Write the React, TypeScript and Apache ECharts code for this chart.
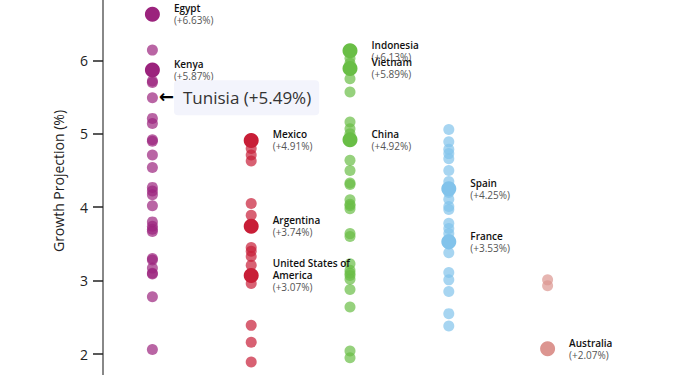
import React, { useEffect, useRef } from "react";
import * as echarts from "echarts";

const continents = ["Africa", "Americas", "Asia", "Europe", "Oceania"];
const continentColors = ["#9b237d", "#c81e37", "#69be46", "#82c3eb", "#dc9590"];

// background (unlabelled) country projections per continent
const africaValues = [6.14, 5.72, 5.70, 5.21, 5.14, 4.92, 4.90, 4.71, 4.54, 4.27, 4.22, 4.17, 4.02, 3.80, 3.74, 3.70, 3.67, 3.30, 3.28, 3.17, 3.10, 3.09, 2.78, 2.06];
const americasValues = [4.80, 4.71, 4.63, 4.05, 3.89, 3.45, 3.40, 3.33, 3.21, 2.96, 2.39, 2.16, 1.89];
const asiaValues = [6.03, 5.96, 5.75, 5.57, 5.16, 5.07, 5.00, 4.64, 4.50, 4.33, 4.31, 4.10, 4.04, 4.02, 3.98, 3.64, 3.60, 3.23, 3.14, 3.10, 3.07, 3.02, 2.88, 2.64, 2.04, 1.95];
const europeValues = [5.06, 4.89, 4.79, 4.73, 4.66, 4.50, 4.35, 4.27, 4.20, 4.11, 4.01, 3.97, 3.78, 3.71, 3.64, 3.56, 3.50, 3.38, 3.11, 3.01, 2.85, 2.55, 2.38];
const oceaniaValues = [3.01, 2.93];
const backgroundValues = [africaValues, americasValues, asiaValues, europeValues, oceaniaValues];

// labelled countries
const highlightNames = ["Egypt", "Kenya", "Mexico", "Argentina", "United States of America", "Indonesia", "Vietnam", "China", "Spain", "France", "Australia"];
const highlightContinent = [0, 0, 1, 1, 1, 2, 2, 2, 3, 3, 4];
const highlightValues = [6.63, 5.87, 4.91, 3.74, 3.07, 6.13, 5.89, 4.92, 4.25, 3.53, 2.07];

// annotated country
const calloutName = "Tunisia";
const calloutContinent = 0;
const calloutValue = 5.49;

// axis extent (only 2..6 fall inside the visible window)
const yMin = 1;
const yMax = 7;
const visibleTicks = [2, 3, 4, 5, 6];

const FONT = "'Open Sans', 'Noto Sans', sans-serif";

function withAlpha(hex: string, a: number): string {
  const r = parseInt(hex.slice(1, 3), 16);
  const g = parseInt(hex.slice(3, 5), 16);
  const b = parseInt(hex.slice(5, 7), 16);
  return `rgba(${r},${g},${b},${a})`;
}

function wrapName(name: string, max: number): string[] {
  const words = name.split(" ");
  const lines: string[] = [];
  let cur = "";
  for (const w of words) {
    const next = cur ? cur + " " + w : w;
    if (next.length > max && cur) {
      lines.push(cur);
      cur = w;
    } else cur = next;
  }
  if (cur) lines.push(cur);
  return lines;
}

export default function App() {
  const ref = useRef<HTMLDivElement>(null);
  useEffect(() => {
    if (!ref.current) return;
    const chart = echarts.init(ref.current, undefined, { renderer: "svg" });

    const bgSeries = continents.map((c, ci) => ({
      type: "scatter",
      name: c,
      symbolSize: 11,
      z: 2,
      itemStyle: { color: withAlpha(continentColors[ci], 0.7), opacity: 1 },
      data: backgroundValues[ci].map((v) => [ci, v]),
    }));

    const hlSeries = {
      type: "scatter",
      name: "highlight",
      symbolSize: 15,
      z: 4,
      itemStyle: { opacity: 1 },
      data: highlightNames.map((n, i) => ({
        value: [highlightContinent[i], highlightValues[i]],
        name: n,
        itemStyle: { color: continentColors[highlightContinent[i]], opacity: 1 },
      })),
      label: {
        show: true,
        position: "right",
        distance: 14,
        align: "left",
        verticalAlign: "middle",
        formatter: (p: any) => {
          const lines = wrapName(p.name, 16).map((l) => `{n|${l}}`);
          return lines.join("\n") + `\n{v|(+${p.value[1].toFixed(2)}%)}`;
        },
        rich: {
          n: { fontFamily: FONT, fontSize: 10, fontWeight: 600, color: "#111", lineHeight: 12 },
          v: { fontFamily: FONT, fontSize: 10, color: "#555", lineHeight: 12 },
        },
      },
    };

    const calloutSeries = {
      type: "scatter",
      name: "callout",
      symbolSize: 11,
      z: 5,
      itemStyle: { color: withAlpha(continentColors[calloutContinent], 0.7), opacity: 1 },
      data: [{ value: [calloutContinent, calloutValue], name: calloutName }],
      label: {
        show: true,
        position: "right",
        distance: 1,
        verticalAlign: "middle",
        formatter: (p: any) => `{arr|←}{box|${p.name} (+${p.value[1].toFixed(2)}%)}`,
        rich: {
          arr: { fontFamily: "'DejaVu Sans', sans-serif", fontSize: 18, fontWeight: "bold", color: "#000", padding: [0, 0, 2, 0] },
          box: {
            fontFamily: FONT,
            fontSize: 17,
            color: "#333",
            backgroundColor: "#f3f4fc",
            borderRadius: 4,
            padding: [9, 8, 9, 9],
          },
        },
      },
    };

    chart.setOption({
      animation: false,
      grid: { left: 103, right: 102, top: 20, height: 440.4, containLabel: false },
      xAxis: {
        type: "category",
        data: continents,
        axisLine: { show: false },
        axisTick: { show: false },
        axisLabel: { show: false },
        splitLine: { show: false },
      },
      yAxis: {
        type: "value",
        min: yMin,
        max: yMax,
        interval: 1,
        axisLine: { show: true, lineStyle: { color: "#888", width: 2 } },
        axisTick: { show: true, length: 10, lineStyle: { color: "#222", width: 1.5 } },
        axisLabel: {
          margin: 15,
          fontFamily: FONT,
          fontSize: 14,
          color: "#222",
          formatter: (v: number) => (visibleTicks.includes(v) ? String(v) : ""),
        },
        splitLine: { show: false },
      },
      graphic: [
        {
          type: "text",
          x: 58,
          y: 181 + 33,
          rotation: Math.PI / 2,
          style: {
            text: "Growth Projection (%)",
            fontFamily: FONT,
            fontSize: 14,
            fill: "#222",
            align: "center",
            verticalAlign: "middle",
          },
        },
      ],
      series: [...bgSeries, hlSeries, calloutSeries],
    });
    return () => chart.dispose();
  }, []);
  return (
    <div style={{ position: "absolute", left: 0, top: 0, width: 699, height: 375, overflow: "hidden" }}>
      <div ref={ref} style={{ position: "absolute", left: 0, top: -33, width: 699, height: 480 }} />
    </div>
  );
}
